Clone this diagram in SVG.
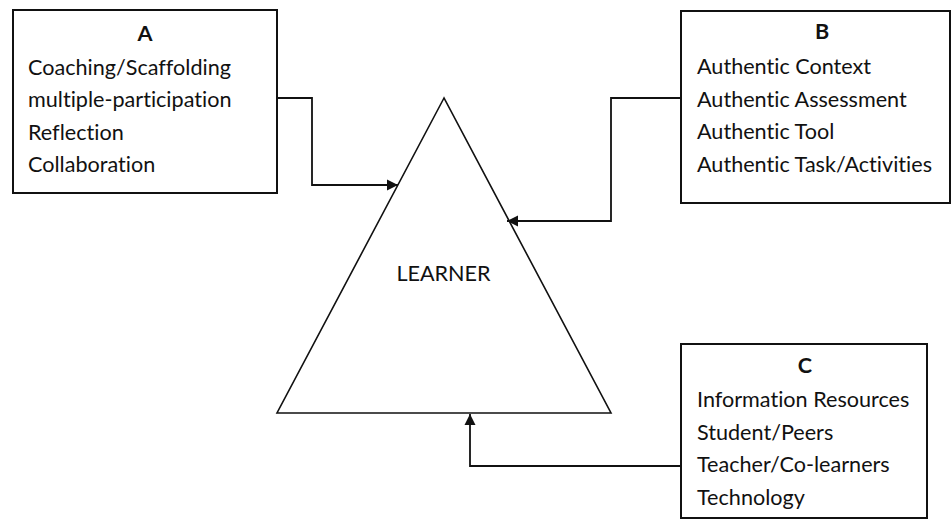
<svg xmlns="http://www.w3.org/2000/svg" width="951" height="519" viewBox="0 0 951 519">
  <style>
    .box { fill: #ffffff; stroke: #111111; stroke-width: 2; }
    .tri { fill: #ffffff; stroke: #111111; stroke-width: 1.6; stroke-linejoin: miter; }
    .link { fill: none; stroke: #111111; stroke-width: 1.8; }
    text { font-family: "Lato", "Liberation Sans", sans-serif; font-size: 21.6px; fill: #111111;
           font-variant-ligatures: none; font-feature-settings: "liga" 0, "dlig" 0; }
    .head { font-weight: bold; text-anchor: middle; }
    .mid { text-anchor: middle; }
  </style>
  <defs>
    <marker id="arrow" markerUnits="userSpaceOnUse" markerWidth="12" markerHeight="12" viewBox="0 0 12 12" refX="11" refY="6" orient="auto">
      <path d="M0,0.5 L11,6 L0,11.5 Z" fill="#111111"/>
    </marker>
  </defs>
  <rect width="951" height="519" fill="#ffffff"/>

  <g id="learner">
    <polygon class="tri" points="444,98 277,413 611,413"/>
    <text class="mid" x="443.5" y="281">LEARNER</text>
  </g>

  <g id="node-a">
    <rect class="box" x="13" y="10" width="264" height="183"/>
    <text class="head" x="145" y="41">A</text>
    <text x="28" y="75">Coaching/Scaffolding</text>
    <text x="28" y="107">multiple-participation</text>
    <text x="28" y="140">Reflection</text>
    <text x="28" y="172">Collaboration</text>
  </g>

  <g id="node-b">
    <rect class="box" x="681" y="11" width="269" height="192"/>
    <text class="head" x="822" y="39">B</text>
    <text x="697" y="74">Authentic Context</text>
    <text x="697" y="107">Authentic Assessment</text>
    <text x="697" y="139">Authentic Tool</text>
    <text x="697" y="172">Authentic Task/Activities</text>
  </g>

  <g id="node-c">
    <rect class="box" x="681" y="344" width="246" height="174"/>
    <text class="head" x="805" y="373">C</text>
    <text x="697" y="407">Information Resources</text>
    <text x="697" y="440">Student/Peers</text>
    <text x="697" y="472">Teacher/Co-learners</text>
    <text x="697" y="505">Technology</text>
  </g>

  <g id="connectors">
    <polyline class="link" points="277,98 312,98 312,185 398,185" marker-end="url(#arrow)"/>
    <polyline class="link" points="681,98 611,98 611,221 507,221" marker-end="url(#arrow)"/>
    <polyline class="link" points="681,466 470,466 470,414" marker-end="url(#arrow)"/>
  </g>
</svg>
